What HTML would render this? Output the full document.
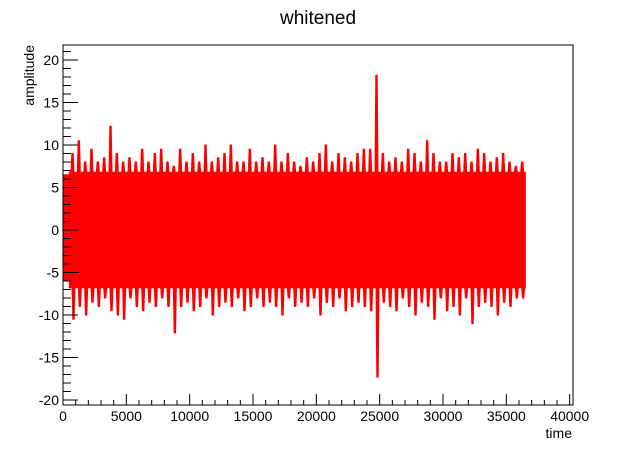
<!DOCTYPE html>
<html><head><meta charset="utf-8"><style>
body{margin:0;background:#fff;}
svg{display:block;font-family:"Liberation Sans",sans-serif;}
</style></head><body>
<svg id="chart" width="636" height="452" viewBox="0 0 636 452">
<rect x="0" y="0" width="636" height="452" fill="#fff"/>
<text x="318" y="24" font-size="19" text-anchor="middle">whitened</text>
<g id="plot"></g>
<g id="axes"></g>
<text x="572" y="438" font-size="14" text-anchor="end">time</text>
<text transform="translate(34,45) rotate(-90)" font-size="14" text-anchor="end">amplitude</text>
</svg>
<script>
const binWidth = 500;
const maxVals = [6.5,9,10.5,8,9.5,8,8.5,12.2,9,8,8.5,8,9.5,8,9,9.5,8,7.5,9.5,8,9,8,10,8,8.5,9,10,8,8,9.5,8,8.5,8,10,8,9,8,7.5,8.5,8,9,10,8,9,8.5,8,9,9.5,9.5,18.2,9,8,8.5,8,9.5,9,8,10.5,9,8,8,9,8.5,9,8,9.5,9,8,8.5,9,8,7.5,8];
const minVals = [-6,-10.5,-9,-10,-8.5,-9,-8,-9.5,-10,-10.5,-8,-9,-9.5,-8.5,-9,-8,-9,-12.1,-9,-8.5,-9.5,-9,-8,-10,-9,-8.5,-9,-8,-9.5,-9,-8,-9,-8.5,-9,-10,-8,-9,-8.5,-9,-8,-10,-8.5,-9,-8,-9.5,-9,-8.5,-9,-9.5,-17.3,-8.5,-9,-9.5,-8,-9,-10,-8.5,-9,-10.5,-8,-9.5,-9,-10,-8,-11,-9,-8.5,-9,-10,-8.5,-9,-8,-8];
const xTicks = [0,5000,10000,15000,20000,25000,30000,35000,40000];
const yTicks = [-20,-15,-10,-5,0,5,10,15,20];
const dataEnd = 36600;
const baseLevel = 6.8;

const L=63,R=573,T=45,B=405;
const xs = v => 63 + v*0.012667;
const ys = v => 230 - v*8.5;
const NS="http://www.w3.org/2000/svg";
const plotG=document.getElementById('plot'), axesG=document.getElementById('axes');
function mk(tag,attrs,parent){const e=document.createElementNS(NS,tag);for(const k in attrs)e.setAttribute(k,attrs[k]);parent.appendChild(e);return e;}

let upper=[],lower=[];
for(let i=0;i<maxVals.length;i++){
  const x0=xs(i*binWidth), x1=xs(Math.min((i+1)*binWidth,dataEnd));
  if(x1<=x0) break;
  const xm=(x0+x1)/2;
  const bt=Math.min(baseLevel,maxVals[i]), bb=Math.max(-baseLevel,minVals[i]);
  upper.push(x0+','+ys(bt), (xm-1.5)+','+ys(bt), (xm-0.7)+','+ys(maxVals[i]), (xm+0.7)+','+ys(maxVals[i]), (xm+1.5)+','+ys(bt), x1+','+ys(bt));
  lower.unshift(x1+','+ys(bb), (xm+2.5)+','+ys(bb), (xm+1.7)+','+ys(minVals[i]), (xm+0.3)+','+ys(minVals[i]), (xm-0.5)+','+ys(bb), x0+','+ys(bb));
}
const poly=mk('polygon',{points:upper.concat(lower).join(' '),fill:'#ff0000',stroke:'#ff0000','stroke-width':'1'},plotG);



const fr=mk('rect',{x:L,y:T,width:R-L,height:B-T,fill:'none',stroke:'#000','stroke-width':'1'},axesG);



for(let v=-20;v<=21;v++){
  const y=ys(v), major=(v%5===0);
  const t=mk('line',{x1:L,x2:L+(major?15:8),y1:y,y2:y,stroke:'#000','stroke-width':'1'},axesG);
  
  
}
yTicks.forEach(v=>{
  const t=mk('text',{x:L-4,y:ys(v)+5,'font-size':'14','text-anchor':'end'},axesG);
  t.textContent=v;
  
  
});
for(let v=0;v<=40000;v+=1000){
  const x=xs(v), major=(v%5000===0);
  const t=mk('line',{x1:x,x2:x,y1:B,y2:B-(major?11:5),stroke:'#000','stroke-width':'1'},axesG);
  
  
}
xTicks.forEach(v=>{
  const t=mk('text',{x:xs(v),y:B+16,'font-size':'14','text-anchor':'middle'},axesG);
  t.textContent=v;
  
  
});
</script>
</body></html>
